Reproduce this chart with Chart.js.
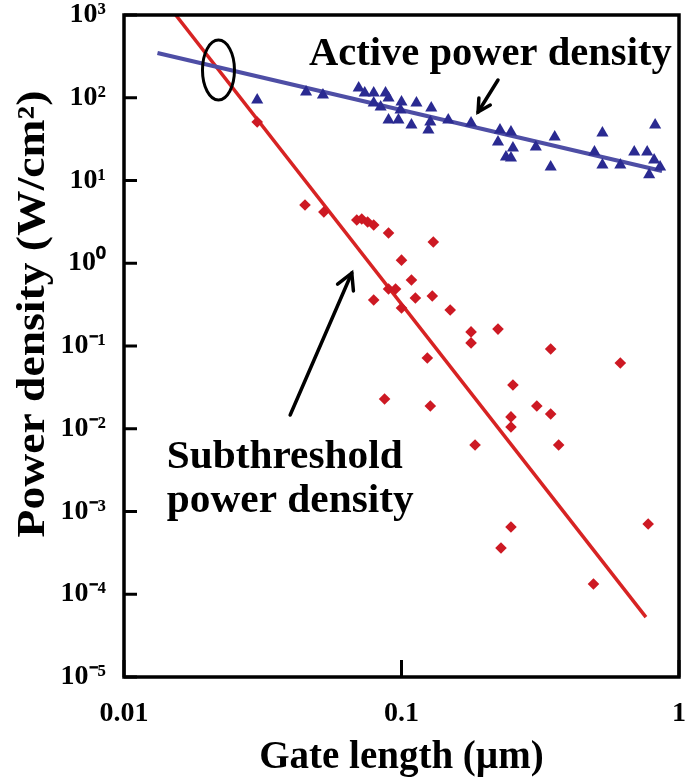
<!DOCTYPE html>
<html>
<head>
<meta charset="utf-8">
<script src="https://cdn.jsdelivr.net/npm/chart.js@4.4.0/dist/chart.umd.min.js"></script>
<style>
  html, body { margin: 0; padding: 0; background: #fff; }
  #wrap { width: 686px; height: 782px; }
</style>
</head>
<body>
<div id="wrap"><canvas id="chart"></canvas></div>
<script>
// axis ticks
const xTicks = [0.01, 0.1, 1];
const yTicks = [1e-5, 1e-4, 1e-3, 1e-2, 1e-1, 1e0, 1e1, 1e2, 1e3];

// active power density (triangles)
const activeX = [0.0302, 0.0453, 0.0521, 0.0701, 0.0737, 0.0794, 0.0794, 0.0841, 0.0876, 0.0898,
  0.0898, 0.0975, 0.1, 0.0992, 0.1086, 0.1132, 0.125, 0.127, 0.128, 0.1474,
  0.1781, 0.2227, 0.2264, 0.2379, 0.248, 0.2521, 0.248, 0.3048, 0.3565, 0.3448,
  0.4958, 0.5297, 0.5297, 0.6145, 0.6898, 0.7679, 0.8136, 0.8204, 0.8549, 0.7808];
const activeY = [93.9, 117, 108, 131, 114, 114, 86.4, 77.3, 114, 99.3,
  53.8, 53.8, 88.8, 71.1, 46.9, 86.4, 40.8, 50.9, 75.2, 53.8,
  49.5, 29.2, 40.8, 19.2, 38.6, 24.7, 18.7, 25.4, 33.6, 14.6,
  22.1, 37.5, 15.4, 15.4, 22.1, 22.1, 17.7, 46.9, 14.6, 11.7];

// subthreshold power density (diamonds)
const subX = [0.0302, 0.0449, 0.0525, 0.069, 0.0719, 0.0755, 0.0794, 0.0898, 0.1302, 0.1,
  0.1086, 0.0898, 0.0952, 0.0794, 0.1122, 0.1291, 0.1, 0.1498, 0.1781, 0.1781,
  0.2227, 0.1239, 0.3448, 0.6145, 0.2521, 0.0869, 0.127, 0.3073, 0.3448, 0.248,
  0.248, 0.1841, 0.3684, 0.248, 0.2283, 0.4918, 0.7743];
const subY = [50.9, 5.06, 4.16, 3.33, 3.42, 3.15, 2.9, 2.32, 1.81, 1.09,
  0.627, 0.488, 0.488, 0.36, 0.38, 0.402, 0.288, 0.272, 0.148, 0.109,
  0.16, 0.0716, 0.092, 0.0623, 0.0338, 0.0229, 0.0188, 0.0188, 0.0151, 0.0139,
  0.0105, 0.00636, 0.00636, 0.00065, 0.000362, 0.000133, 0.000706];

// fitted trend lines (end points)
const activeFitX = [0.0132, 0.869];
const activeFitY = [347, 13.0];
const subFitX = [0.01536, 0.76];
const subFitY = [1000, 5.3e-5];

const serif = "'Liberation Serif', 'Times New Roman', serif";
const SUP = {"-": "\u207B", "0": "\u2070", "1": "\u00B9", "2": "\u00B2", "3": "\u00B3", "4": "\u2074", "5": "\u2075"};
const sup = n => String(n).split("").map(c => SUP[c]).join("");
const pts = (xs, ys) => xs.map((x, i) => ({ x, y: ys[i] }));

function line(ctx, x1, y1, x2, y2) {
  ctx.beginPath(); ctx.moveTo(x1, y1); ctx.lineTo(x2, y2); ctx.stroke();
}

function arrow(ctx, x1, y1, x2, y2, head) {
  const ang = Math.atan2(y2 - y1, x2 - x1);
  line(ctx, x1, y1, x2, y2);
  ctx.beginPath();
  ctx.moveTo(x2 - head * Math.cos(ang - 0.5), y2 - head * Math.sin(ang - 0.5));
  ctx.lineTo(x2, y2);
  ctx.lineTo(x2 - head * Math.cos(ang + 0.5), y2 - head * Math.sin(ang + 0.5));
  ctx.stroke();
}

const overlay = {
  id: "overlay",
  afterDraw(chart) {
    const { ctx, chartArea: a, scales: { x, y } } = chart;
    ctx.save();
    ctx.strokeStyle = "#000";
    ctx.lineWidth = 3.5;
    ctx.strokeRect(a.left, a.top, a.right - a.left, a.bottom - a.top);
    ctx.lineWidth = 3;
    yTicks.forEach(v => { const py = y.getPixelForValue(v); line(ctx, a.left, py, a.left + 13, py); });
    xTicks.forEach(v => { const px = x.getPixelForValue(v); line(ctx, px, a.bottom, px, a.bottom - 17); });

    // ellipse at the crossing of the two trends
    ctx.lineWidth = 3;
    ctx.beginPath();
    ctx.ellipse(x.getPixelForValue(0.0219), y.getPixelForValue(216), 16, 30, 0, 0, Math.PI * 2);
    ctx.stroke();

    // arrows
    ctx.lineWidth = 3.5;
    ctx.lineCap = "round";
    arrow(ctx, x.getPixelForValue(0.2227), y.getPixelForValue(164), x.getPixelForValue(0.1888), y.getPixelForValue(67.3), 14);
    arrow(ctx, x.getPixelForValue(0.0397), y.getPixelForValue(0.01465), x.getPixelForValue(0.0662), y.getPixelForValue(0.762), 18);

    // labels
    ctx.fillStyle = "#000";
    ctx.font = "bold 39px " + serif;
    ctx.textBaseline = "alphabetic";
    ctx.textAlign = "left";
    ctx.save();
    ctx.translate(x.getPixelForValue(0.0464), y.getPixelForValue(249));
    ctx.scale(1.04, 1);
    ctx.fillText("Active power density", 0, 0);
    ctx.restore();
    ctx.save();
    ctx.translate(x.getPixelForValue(0.01426), 0);
    ctx.scale(1.06, 1);
    ctx.fillText("Subthreshold", 0, y.getPixelForValue(0.00336));
    ctx.fillText("power density", 0, y.getPixelForValue(0.000986));
    ctx.restore();

    // y axis title
    ctx.save();
    ctx.translate(34, 314);
    ctx.rotate(-Math.PI / 2);
    ctx.scale(1.14, 1);
    ctx.textAlign = "center";
    ctx.textBaseline = "middle";
    ctx.font = "bold 40px " + serif;
    ctx.fillText("Power density (W/cm\u00B2)", 0, 0);
    ctx.restore();
    ctx.restore();
  }
};

new Chart(document.getElementById("chart"), {
  type: "scatter",
  data: {
    datasets: [
      {
        label: "Active power density",
        data: pts(activeX, activeY),
        pointStyle: "triangle",
        pointRadius: 7,
        backgroundColor: "rgb(42, 42, 145)",
        borderColor: "rgb(42, 42, 145)",
        borderWidth: 0
      },
      {
        label: "Subthreshold power density",
        data: pts(subX, subY),
        pointStyle: "rectRot",
        pointRadius: 5.8,
        backgroundColor: "rgb(205, 25, 35)",
        borderColor: "rgb(205, 25, 35)",
        borderWidth: 0
      },
      {
        label: "Active fit",
        data: pts(activeFitX, activeFitY),
        showLine: true,
        pointRadius: 0,
        borderColor: "rgb(78, 78, 165)",
        borderWidth: 4
      },
      {
        label: "Subthreshold fit",
        data: pts(subFitX, subFitY),
        showLine: true,
        pointRadius: 0,
        borderColor: "rgb(215, 35, 35)",
        borderWidth: 3.5
      }
    ]
  },
  options: {
    responsive: true,
    maintainAspectRatio: false,
    animation: false,
    layout: { padding: { top: 15, right: 4, left: 0, bottom: 0 } },
    plugins: { legend: { display: false }, tooltip: { enabled: false } },
    scales: {
      x: {
        type: "logarithmic",
        min: 0.01,
        max: 1,
        grid: { display: false },
        border: { display: false },
        afterBuildTicks: s => { s.ticks = xTicks.map(v => ({ value: v })); },
        afterFit: s => { s.height = 105; s.paddingLeft = 0; s.paddingRight = 0; },
        ticks: {
          padding: 12,
          maxRotation: 0,
          color: "#000",
          font: { family: serif, size: 28, weight: "bold" },
          callback: v => String(v)
        },
        title: {
          display: true,
          text: "Gate length (\u00B5m)",
          color: "#000",
          font: { family: serif, size: 39, weight: "bold", lineHeight: 1 },
          padding: { top: 0, bottom: 5 }
        }
      },
      y: {
        type: "logarithmic",
        min: 1e-5,
        max: 1e3,
        grid: { display: false },
        border: { display: false },
        afterBuildTicks: s => { s.ticks = yTicks.map(v => ({ value: v })); },
        afterFit: s => { s.width = 124; s.paddingTop = 0; s.paddingBottom = 0; },
        ticks: {
          padding: 10,
          color: "#000",
          font: { family: serif, size: 28, weight: "bold" },
          callback: v => "10" + sup(Math.round(Math.log10(v)))
        },
        title: { display: false }
      }
    }
  },
  plugins: [overlay]
});
</script>
</body>
</html>
